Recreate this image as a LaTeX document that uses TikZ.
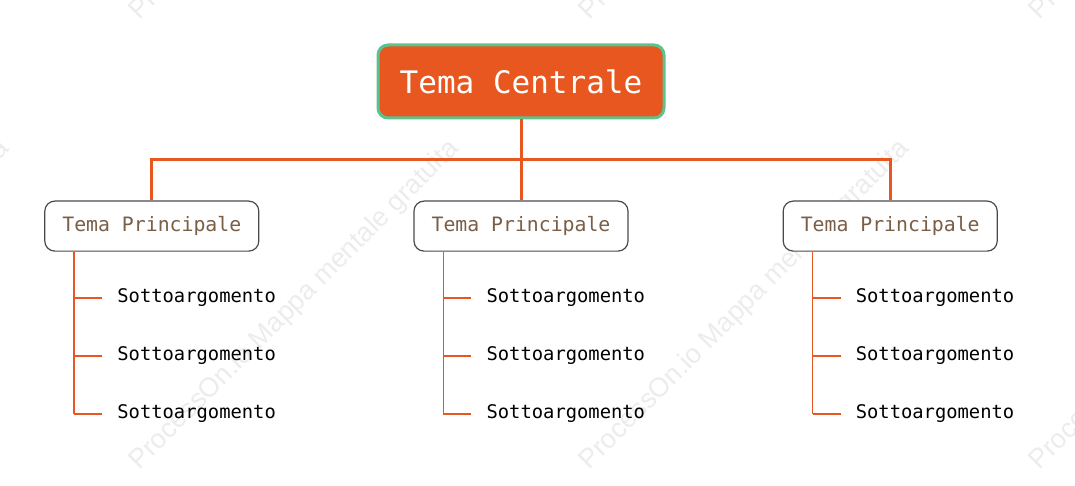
\documentclass[tikz,border=0pt]{standalone}
\usepackage{fontspec}
\newfontfamily\mapfont{DejaVu Sans Mono}
\newfontfamily\markfont{Liberation Sans}
\usepackage{tikz}
\usetikzlibrary{positioning, calc}
\definecolor{coreFill}{HTML}{E8571F}
\definecolor{coreStroke}{HTML}{5DC38E}
\definecolor{branchLine}{HTML}{E8571F}
\definecolor{topicStroke}{HTML}{4A4A4A}
\definecolor{topicText}{HTML}{7A5E46}
\definecolor{markGray}{HTML}{ECECEC}

\begin{document}
\begin{tikzpicture}[
    x=1pt, y=1pt,
    % Global Styles
    font=\mapfont,
    % Node Styles
    core/.style={
        rectangle,
        rounded corners=10pt,
        draw=coreStroke,
        fill=coreFill,
        line width=3pt,
        text=white,
        font=\mapfont\fontsize{31}{36}\selectfont,
        minimum width=286pt,
        minimum height=73pt
    },
    topic/.style={
        rectangle,
        rounded corners=10pt,
        draw=topicStroke,
        fill=white,
        line width=1.2pt,
        text=topicText,
        font=\mapfont\fontsize{19.8}{24}\selectfont,
        minimum width=214pt,
        minimum height=50pt
    },
    subtopic/.style={
        anchor=west,
        inner sep=0pt,
        text=black,
        font=\mapfont\fontsize{18.8}{22}\selectfont
    },
    watermark/.style={
        rotate=45,
        text=markGray,
        font=\markfont\fontsize{27}{30}\selectfont
    },
    % Line Styles
    trunk/.style={draw=branchLine, line width=3pt},
    twig/.style={draw=branchLine, line width=1.6pt}
]

    % --- Canvas ---
    \useasboundingbox (0,0) rectangle (1075,-486);

    % --- Watermarks ---
    \begin{scope}
        \clip (0,0) rectangle (1075,-486);
        \foreach \cx/\cy in {295/305, 745/305, 1195/305, -155/305, 295/-145, 745/-145, 1195/-145}
            \node[watermark] at (\cx,-\cy) {ProcessOn.io Mappa mentale gratuita};
    \end{scope}

    % --- Nodes ---

    % 1. Central topic
    \node[core] (central) at (521,-81.5) {Tema Centrale};

    % 2. Main topics
    \node[topic, below=81pt of central] (pc) {Tema Principale};
    \node[topic, left=154pt of pc] (pl) {Tema Principale};
    \node[topic, right=154pt of pc] (pr) {Tema Principale};

    % 3. Subtopics, hanging from each main topic
    \foreach \b in {pl, pc, pr} {
        \coordinate (\b-spine) at ($(\b.south west)+(30,0)$);
        \node[subtopic] (\b-1) at ($(\b.south west)+(73,-46)$) {Sottoargomento};
        \node[subtopic, below=58pt of \b-1.west, anchor=west] (\b-2) {Sottoargomento};
        \node[subtopic, below=58pt of \b-2.west, anchor=west] (\b-3) {Sottoargomento};
    }

    % --- Edges ---

    % Central topic to main topics
    \draw[trunk] (central.south) -- ++(0,-40) -| (pl.north);
    \draw[trunk] (central.south) -- ++(0,-40) -| (pr.north);
    \draw[trunk] (central.south) -- (pc.north);

    % Main topics to subtopics
    \foreach \b in {pl, pc, pr} {
        \draw[twig] (\b-spine) -- (\b-spine |- \b-3.west);
        \foreach \i in {1,2,3}
            \draw[twig] (\b-spine |- \b-\i.west) -- ([xshift=-15pt]\b-\i.west);
    }

\end{tikzpicture}
\end{document}
